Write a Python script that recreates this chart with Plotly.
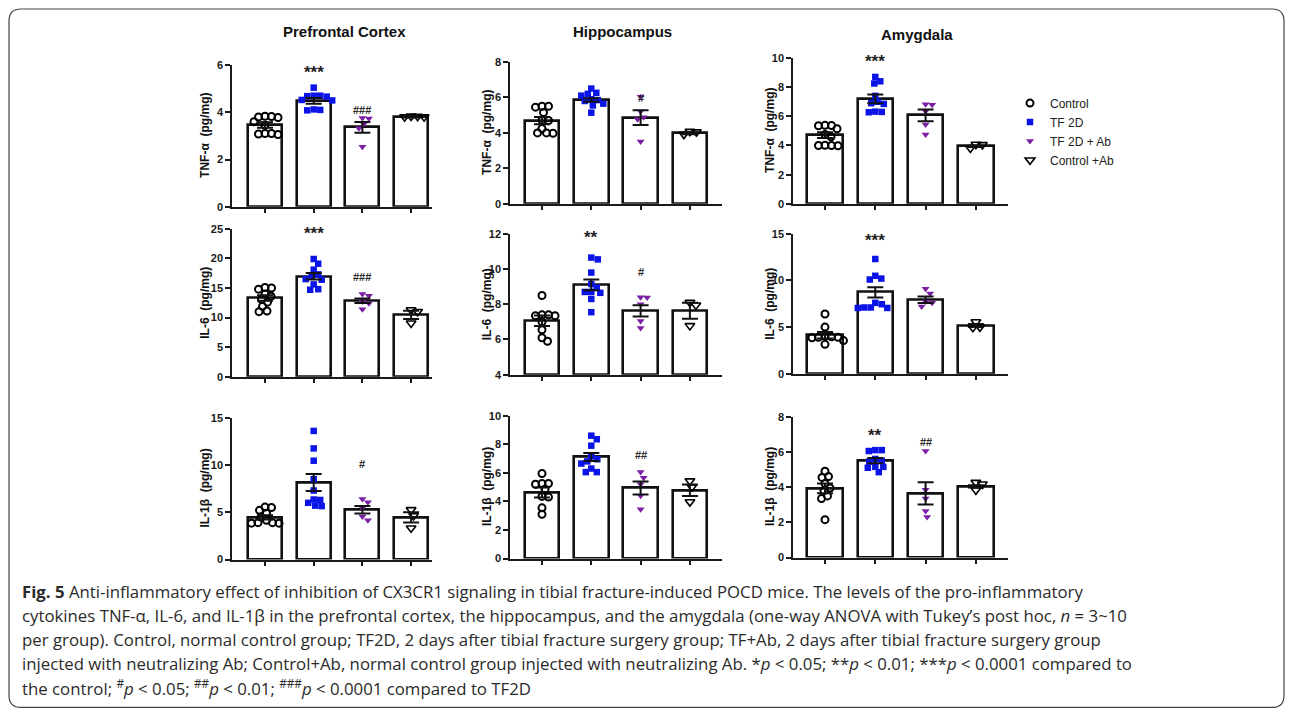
import math
import plotly.graph_objects as go

W, H = 1292, 715

groups = ["Control", "TF 2D", "TF 2D + Ab", "Control +Ab"]
regions = ["Prefrontal Cortex", "Hippocampus", "Amygdala"]
cytokines = ["TNF-α", "IL-6", "IL-1β"]

# ---------------- data (pg/mg) ----------------
pfc_tnf_control = [3.82, 3.80, 3.83, 3.78, 3.60, 3.45, 3.10, 3.08, 3.10, 3.06]
pfc_tnf_tf2d = [5.04, 4.70, 4.68, 4.70, 4.66, 4.50, 4.52, 4.10, 4.08, 4.12]
pfc_tnf_tfab = [3.74, 3.76, 3.50, 3.32, 2.54]
pfc_tnf_ctrlab = [3.80, 3.83, 3.82, 3.80]
pfc_tnf_mean = [3.46, 4.48, 3.36, 3.81]
pfc_tnf_sem = [0.12, 0.12, 0.23, 0.03]
pfc_tnf_sig = ["", "***", "###", ""]

hip_tnf_control = [5.50, 5.45, 5.50, 5.15, 4.70, 4.72, 4.25, 4.00, 3.98, 4.00]
hip_tnf_tf2d = [6.50, 6.26, 6.20, 6.10, 5.90, 5.85, 5.80, 5.65, 5.55, 5.14]
hip_tnf_tfab = [6.04, 5.20, 4.88, 4.77, 3.51]
hip_tnf_ctrlab = [4.08, 3.92, 4.05]
hip_tnf_mean = [4.69, 5.85, 4.86, 3.98]
hip_tnf_sem = [0.20, 0.10, 0.42, 0.05]
hip_tnf_sig = ["", "**", "#", ""]

amy_tnf_control = [5.37, 5.35, 5.15, 5.38, 4.75, 4.60, 4.00, 3.98, 4.00, 4.02]
amy_tnf_tf2d = [8.70, 8.40, 8.25, 7.40, 7.00, 6.90, 6.85, 6.30, 6.28, 6.32]
amy_tnf_tfab = [6.82, 6.80, 6.35, 5.44, 4.75]
amy_tnf_ctrlab = [4.08, 3.82, 4.05]
amy_tnf_mean = [4.71, 7.20, 6.06, 3.95]
amy_tnf_sem = [0.20, 0.30, 0.40, 0.05]
amy_tnf_sig = ["", "***", "", ""]

pfc_il6_control = [15.1, 15.0, 14.8, 14.0, 13.6, 13.1, 12.6, 11.9, 11.0, 11.1]
pfc_il6_tf2d = [19.9, 19.1, 18.1, 17.3, 17.0, 16.5, 16.4, 15.6, 14.7, 14.8]
pfc_il6_tfab = [14.0, 13.7, 12.7, 12.4, 11.4]
pfc_il6_ctrlab = [11.3, 11.0, 9.05]
pfc_il6_mean = [13.30, 16.97, 12.84, 10.46]
pfc_il6_sem = [0.45, 0.55, 0.40, 0.70]
pfc_il6_sig = ["", "***", "###", ""]

hip_il6_control = [8.5, 7.4, 7.35, 7.4, 7.35, 7.0, 6.55, 6.1, 5.9]
hip_il6_tf2d = [10.65, 10.55, 9.8, 9.15, 8.95, 8.7, 8.65, 8.7, 8.3, 7.55]
hip_il6_tfab = [8.4, 8.38, 8.0, 7.05, 6.65]
hip_il6_ctrlab = [8.1, 7.95, 6.78]
hip_il6_mean = [7.06, 9.10, 7.63, 7.63]
hip_il6_sem = [0.30, 0.30, 0.32, 0.45]
hip_il6_sig = ["", "**", "#", ""]

amy_il6_control = [6.4, 5.0, 4.0, 3.95, 3.9, 3.85, 3.9, 3.55, 3.15]
amy_il6_tf2d = [12.3, 10.5, 10.2, 10.1, 7.6, 7.45, 7.1, 7.05, 7.05, 7.1]
amy_il6_tfab = [9.1, 8.6, 7.75, 7.6, 7.2]
amy_il6_ctrlab = [5.55, 5.0, 4.95]
amy_il6_mean = [4.13, 8.73, 7.94, 5.17]
amy_il6_sem = [0.35, 0.55, 0.35, 0.15]
amy_il6_sig = ["", "***", "", ""]

pfc_il1b_control = [5.55, 5.5, 5.2, 4.9, 4.5, 4.15, 3.9, 3.85, 3.85, 3.9]
pfc_il1b_tf2d = [13.6, 11.75, 10.45, 8.5, 7.3, 6.3, 6.35, 6.0, 5.65, 5.7]
pfc_il1b_tfab = [6.4, 6.05, 5.45, 4.55, 4.15]
pfc_il1b_ctrlab = [5.26, 4.63, 3.33]
pfc_il1b_mean = [4.46, 8.14, 5.26, 4.46]
pfc_il1b_sem = [0.22, 0.90, 0.40, 0.55]
pfc_il1b_sig = ["", "**", "#", ""]

hip_il1b_control = [5.95, 5.25, 5.2, 5.25, 4.85, 4.35, 4.3, 3.55, 3.1]
hip_il1b_tf2d = [8.6, 8.35, 7.9, 7.15, 6.95, 6.8, 6.65, 6.3, 6.05, 6.05]
hip_il1b_tfab = [6.05, 5.65, 5.2, 4.4, 3.45]
hip_il1b_ctrlab = [5.43, 5.01, 3.97]
hip_il1b_mean = [4.62, 7.11, 4.94, 4.78]
hip_il1b_sem = [0.35, 0.28, 0.46, 0.40]
hip_il1b_sig = ["", "***", "##", ""]

amy_il1b_control = [4.9, 4.6, 4.55, 4.2, 3.95, 3.8, 3.5, 3.35, 2.15]
amy_il1b_tf2d = [6.1, 6.05, 6.1, 5.6, 5.45, 5.15, 5.1, 5.15, 4.85, 5.5]
amy_il1b_tfab = [6.05, 3.85, 3.35, 2.65, 2.3]
amy_il1b_ctrlab = [4.26, 4.17, 3.83]
amy_il1b_mean = [3.93, 5.51, 3.64, 4.04]
amy_il1b_sem = [0.28, 0.15, 0.63, 0.06]
amy_il1b_sig = ["", "**", "##", ""]

# axis scales per panel (row-major): y range and tick step
y_ranges = [[0, 6], [0, 8], [0, 10], [0, 25], [4, 12], [0, 15], [0, 15], [0, 10], [0, 8]]
y_dticks = [2, 2, 2, 5, 2, 5, 5, 2, 2]

caption_lines = [
    "<b>Fig. 5</b> Anti-inflammatory effect of inhibition of CX3CR1 signaling in tibial fracture-induced POCD mice. The levels of the pro-inflammatory",
    "cytokines TNF-α, IL-6, and IL-1β in the prefrontal cortex, the hippocampus, and the amygdala (one-way ANOVA with Tukey’s post hoc, <i>n</i> = 3~10",
    "per group). Control, normal control group; TF2D, 2 days after tibial fracture surgery group; TF+Ab, 2 days after tibial fracture surgery group",
    "injected with neutralizing Ab; Control+Ab, normal control group injected with neutralizing Ab. *<i>p</i> &lt; 0.05; **<i>p</i> &lt; 0.01; ***<i>p</i> &lt; 0.0001 compared to",
    "the control; <sup>#</sup><i>p</i> &lt; 0.05; <sup>##</sup><i>p</i> &lt; 0.01; <sup>###</sup><i>p</i> &lt; 0.0001 compared to TF2D",
]

panels = [
    (pfc_tnf_control, pfc_tnf_tf2d, pfc_tnf_tfab, pfc_tnf_ctrlab, pfc_tnf_mean, pfc_tnf_sem, pfc_tnf_sig),
    (hip_tnf_control, hip_tnf_tf2d, hip_tnf_tfab, hip_tnf_ctrlab, hip_tnf_mean, hip_tnf_sem, hip_tnf_sig),
    (amy_tnf_control, amy_tnf_tf2d, amy_tnf_tfab, amy_tnf_ctrlab, amy_tnf_mean, amy_tnf_sem, amy_tnf_sig),
    (pfc_il6_control, pfc_il6_tf2d, pfc_il6_tfab, pfc_il6_ctrlab, pfc_il6_mean, pfc_il6_sem, pfc_il6_sig),
    (hip_il6_control, hip_il6_tf2d, hip_il6_tfab, hip_il6_ctrlab, hip_il6_mean, hip_il6_sem, hip_il6_sig),
    (amy_il6_control, amy_il6_tf2d, amy_il6_tfab, amy_il6_ctrlab, amy_il6_mean, amy_il6_sem, amy_il6_sig),
    (pfc_il1b_control, pfc_il1b_tf2d, pfc_il1b_tfab, pfc_il1b_ctrlab, pfc_il1b_mean, pfc_il1b_sem, pfc_il1b_sig),
    (hip_il1b_control, hip_il1b_tf2d, hip_il1b_tfab, hip_il1b_ctrlab, hip_il1b_mean, hip_il1b_sem, hip_il1b_sig),
    (amy_il1b_control, amy_il1b_tf2d, amy_il1b_tfab, amy_il1b_ctrlab, amy_il1b_mean, amy_il1b_sem, amy_il1b_sig),
]

# ---------------- layout geometry (reference pixels) ----------------
col_geom = [(232, 432, 265, 48.7), (510, 722, 542, 49.3), (793, 1008, 825, 50.3)]
row_geom = [(207, 65), (204, 62), (204, 58),
            (377, 229), (375, 234), (374, 234),
            (560, 418), (559, 416), (558, 417)]
sig_y = [[0, 5.87, 4.10, 0], [0, 8.1, 5.97, 0], [0, 10.0, 0, 0],
         [0, 24.9, 16.9, 0], [0, 12.0, 9.84, 0], [0, 14.7, 0, 0],
         [0, 15.5, 10.1, 0], [0, 10.07, 7.27, 0], [0, 7.15, 6.58, 0]]
ylab_x = [205, 487, 770]
title_pos = [(345, 32), (622, 32), (917, 35)]

styles = [
    dict(symbol="circle-open", color="black", size=7, line=dict(width=2, color="black")),
    dict(symbol="square", color="#0b14e6", size=6.5, line=dict(width=0)),
    dict(symbol="triangle-down", color="#7a1ea3", size=7, line=dict(width=0)),
    dict(symbol="triangle-down-open", color="black", size=8.5, line=dict(width=1.6, color="black")),
]

# the photographed page is slightly squeezed vertically; compensate
VS, VO = 0.984, 6.0


def px2x(px):
    return px / W


def px2y(py):
    return 1 - ((py - VO) / VS) / H


def swarm(vals, ppu_x, ppu_y, diam):
    """Greedy beeswarm: offsets (data units) so markers don't overlap."""
    order = sorted(range(len(vals)), key=lambda i: -vals[i])
    placed = []
    offs = [0.0] * len(vals)
    cands = [0.0]
    k = 1
    while k <= 40:
        cands += [k * 0.5, -k * 0.5]
        k += 1
    for i in order:
        yp = vals[i] * ppu_y
        for c in cands:
            if all(math.hypot(c - a, yp - b) >= diam for a, b in placed):
                break
        placed.append((c, yp))
        offs[i] = c / ppu_x
    return offs


fig = go.Figure()
layout = {}
annotations = []
AX = "#1a1a1a"

for p, (c0, c1, c2, c3, mean, sem, sig) in enumerate(panels):
    r, c = divmod(p, 3)
    n = p + 1
    xa = "x" if n == 1 else f"x{n}"
    ya = "y" if n == 1 else f"y{n}"
    xk = "xaxis" if n == 1 else f"xaxis{n}"
    yk = "yaxis" if n == 1 else f"yaxis{n}"
    ax0, ax1, cat0, sp = col_geom[c]
    yb, yt = row_geom[p]
    lo, hi = y_ranges[p]
    xr = [-(cat0 - ax0) / sp, 3 + (ax1 - (cat0 + 3 * sp)) / sp]
    ppu_y = (yb - yt) / (hi - lo)

    layout[xk] = dict(domain=[px2x(ax0), px2x(ax1)], range=xr, anchor=ya,
                      showgrid=False, zeroline=False, showline=True, linecolor=AX,
                      linewidth=2, ticks="outside", ticklen=4, tickwidth=1.5, tickcolor=AX,
                      tickvals=[0, 1, 2, 3], showticklabels=False, fixedrange=True)
    layout[yk] = dict(domain=[px2y(yb), px2y(yt)], range=[lo, hi], anchor=xa,
                      showgrid=False, zeroline=False, showline=True, linecolor=AX,
                      linewidth=1.5, ticks="outside", ticklen=5, tickwidth=1.5, tickcolor=AX,
                      dtick=y_dticks[p], tick0=lo,
                      tickfont=dict(family="Liberation Sans, Arial", size=11, color=AX, weight="bold"),
                      fixedrange=True)

    fig.add_trace(go.Bar(x=[0, 1, 2, 3], y=[m - lo for m in mean], base=lo, width=0.7,
                         marker=dict(color="white", line=dict(color="#111111", width=2.6)),
                         xaxis=xa, yaxis=ya, showlegend=False, hoverinfo="skip"))
    for g, vals in enumerate([c0, c1, c2, c3]):
        offs = swarm(vals, sp, ppu_y, 6.3)
        fig.add_trace(go.Scatter(x=[g + o for o in offs], y=vals, mode="markers",
                                 marker=styles[g], name=groups[g],
                                 showlegend=(p == 0), legendrank=g + 1,
                                 xaxis=xa, yaxis=ya, cliponaxis=False))
    fig.add_trace(go.Scatter(x=[0, 1, 2, 3], y=mean, mode="markers",
                             marker=dict(size=1, opacity=0),
                             error_y=dict(type="data", array=sem, visible=True, color="#111111",
                                          thickness=2, width=8),
                             xaxis=xa, yaxis=ya, showlegend=False, hoverinfo="skip", cliponaxis=False))
    for g, s in enumerate(sig):
        if s:
            star = "*" in s
            annotations.append(dict(x=g, y=sig_y[p][g], xref=xa, yref=ya, text=s, showarrow=False,
                                    font=dict(family="Liberation Sans, Arial", size=17 if star else 11,
                                              color="#222222" if star else "#2a2a2a", weight="bold"),
                                    yanchor="middle", xanchor="center", yshift=-4 if star else 0))
    annotations.append(dict(x=px2x(ylab_x[c]), y=px2y((yb + yt) / 2), xref="paper", yref="paper",
                            text=cytokines[r] + "\u00a0\u00a0(pg/mg)", textangle=-90, showarrow=False,
                            font=dict(family="Liberation Sans, Arial", size=12, color="#111111", weight="bold"),
                            xanchor="center", yanchor="middle"))

for i, t in enumerate(regions):
    annotations.append(dict(x=px2x(title_pos[i][0]), y=px2y(title_pos[i][1]), xref="paper", yref="paper",
                            text=t, showarrow=False,
                            font=dict(family="Liberation Sans, Arial", size=15, color="#111111", weight="bold"),
                            xanchor="center", yanchor="middle"))

for i, line in enumerate(caption_lines):
    annotations.append(dict(x=px2x(20), y=px2y(592 + 24 * i), xref="paper", yref="paper",
                            text=line, showarrow=False, align="left",
                            font=dict(family="Open Sans", size=16.8, color="#2a2a2a"),
                            xanchor="left", yanchor="middle"))

# rounded frame (reference px -> paper)
fx0, fy0, fx1, fy1, rr = 9, 9, 1284, 708, 12
pts = [("M", fx0 + rr, fy0), ("L", fx1 - rr, fy0), ("Q", fx1, fy0, fx1, fy0 + rr),
       ("L", fx1, fy1 - rr), ("Q", fx1, fy1, fx1 - rr, fy1), ("L", fx0 + rr, fy1),
       ("Q", fx0, fy1, fx0, fy1 - rr), ("L", fx0, fy0 + rr), ("Q", fx0, fy0, fx0 + rr, fy0)]
segs = []
for seg in pts:
    cmd, nums = seg[0], seg[1:]
    coords = []
    for j in range(0, len(nums), 2):
        coords.append(f"{px2x(nums[j]):.5f},{px2y(nums[j + 1]):.5f}")
    segs.append(cmd + " " + " ".join(coords))
frame_path = " ".join(segs) + " Z"

layout.update(
    width=W, height=H, margin=dict(l=0, r=0, t=0, b=0),
    paper_bgcolor="white", plot_bgcolor="rgba(0,0,0,0)",
    bargap=0, barmode="overlay",
    showlegend=True,
    legend=dict(x=px2x(1010), y=1 - 84 / H, xanchor="left", yanchor="top",
                font=dict(family="Liberation Sans, Arial", size=12, color="#222222"),
                bgcolor="rgba(0,0,0,0)", tracegroupgap=0, itemclick=False),
    annotations=annotations,
    shapes=[dict(type="path", xref="paper", yref="paper", path=frame_path,
                 line=dict(color="#444444", width=1.2), layer="below")],
)
fig.update_layout(**layout)

fig.write_html("out.html", config={"displayModeBar": False},
               post_script="document.body.style.margin='0';")
